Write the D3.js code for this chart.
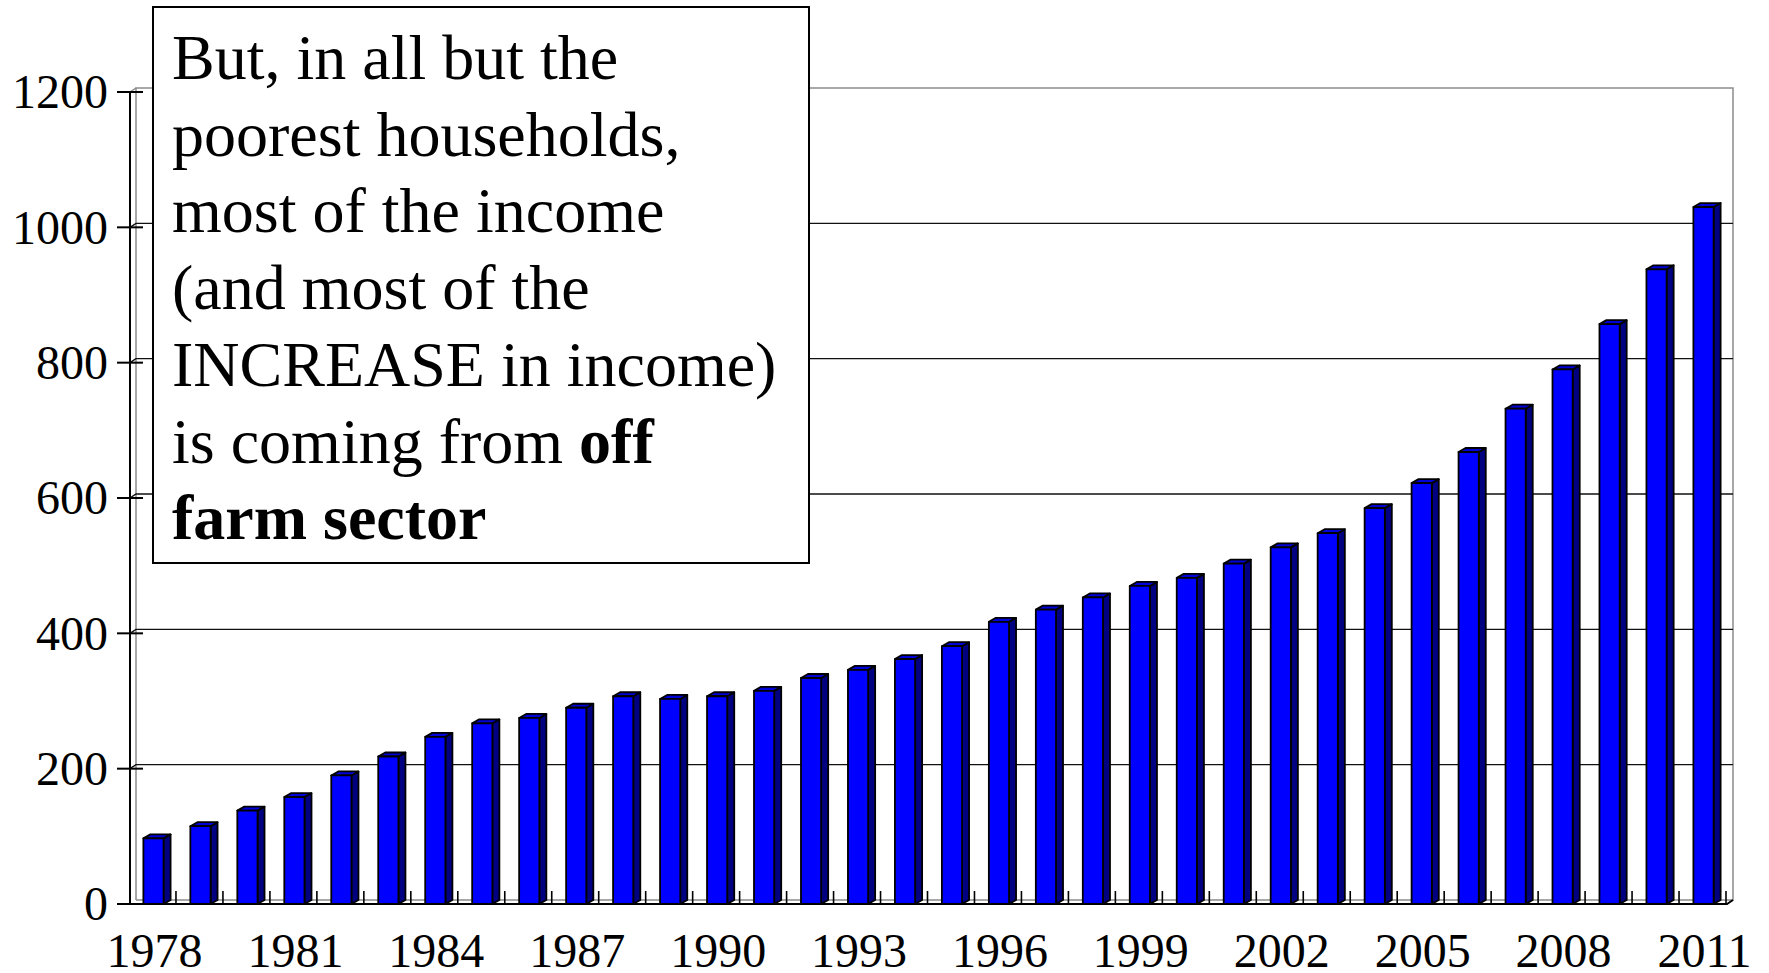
<!DOCTYPE html>
<html>
<head>
<meta charset="utf-8">
<script src="https://cdn.jsdelivr.net/npm/d3@7/dist/d3.min.js"></script>
<style>
  html, body { margin: 0; padding: 0; background: #fff; }
  svg { display: block; font-family: "Liberation Serif", "Times New Roman", serif; }
</style>
</head>
<body>
<svg id="chart" width="1769" height="973"></svg>
<script>
// data
var years = d3.range(1978, 2012).map(String);
var income = [97, 115, 138, 158, 190, 218, 247, 267, 275, 290,
              307, 303, 307, 315, 334, 346, 362, 381, 417, 435,
              453, 470, 482, 503, 527, 548, 585, 622, 668, 732,
              790, 857, 938, 1030];
var yTicks = [0, 200, 400, 600, 800, 1000, 1200];
var xLabels = years.filter(function(d, i) { return i % 3 === 0; });

var noteLines = [
    [{t: "But, in all but the"}],
    [{t: "poorest households,"}],
    [{t: "most of the income"}],
    [{t: "(and most of the"}],
    [{t: "INCREASE in income)"}],
    [{t: "is coming from "}, {t: "off", b: true}],
    [{t: "farm sector", b: true}]
];

var svg = d3.select("#chart");
var depth = {x: 6, y: -4};   // 3d offset of the back wall

var x = d3.scaleBand()
    .domain(years)
    .range([130, 1727])
    .padding(0);
var y = d3.scaleLinear()
    .domain([0, 1200])
    .range([904, 92]);

var barW = x.bandwidth() * 0.43;
var x0 = x.range()[0], x1 = x.range()[1];

// back wall & floor (gray)
var wall = svg.append("g")
    .attr("fill", "none")
    .attr("stroke", "#8c8c8c")
    .attr("stroke-width", 1.5);
wall.append("path")
    .attr("d", "M" + (x0 + depth.x) + "," + (y(0) + depth.y) +
               "V" + (y(1200) + depth.y) +
               "H" + (x1 + depth.x) +
               "V" + (y(0) + depth.y) +
               "H" + (x0 + depth.x));
wall.append("path")
    .attr("d", "M" + x0 + "," + y(1200) + "L" + (x0 + depth.x) + "," + (y(1200) + depth.y));

// gridlines on the back wall
var grid = svg.append("g")
    .attr("stroke", "#111")
    .attr("stroke-width", 1.4)
    .attr("fill", "none");
grid.selectAll("path")
    .data(yTicks.filter(function(d) { return d > 0 && d < 1200; }))
    .enter()
    .append("path")
    .attr("d", function(d) {
        return "M" + x0 + "," + y(d) +
               "L" + (x0 + depth.x) + "," + (y(d) + depth.y) +
               "H" + (x1 + depth.x);
    });

// front axes
var axes = svg.append("g")
    .attr("stroke", "#000")
    .attr("stroke-width", 2)
    .attr("fill", "none");
axes.append("line")
    .attr("x1", x0).attr("x2", x0)
    .attr("y1", y(0)).attr("y2", y(1200));
axes.append("path")
    .attr("d", "M" + x0 + "," + y(0) + "H" + x1 +
               "L" + (x1 + depth.x) + "," + (y(0) + depth.y));
axes.selectAll(".ytick")
    .data(yTicks)
    .enter()
    .append("line")
    .attr("class", "ytick")
    .attr("x1", 117).attr("x2", 143)
    .attr("y1", function(d) { return y(d); })
    .attr("y2", function(d) { return y(d); });
axes.selectAll(".xtick")
    .data(years.slice(1).concat(["end"]))
    .enter()
    .append("line")
    .attr("class", "xtick")
    .attr("x1", function(d, i) { return x0 + x.step() * (i + 1) - 1; })
    .attr("x2", function(d, i) { return x0 + x.step() * (i + 1) - 1; })
    .attr("y1", y(0) - 13)
    .attr("y2", y(0))
    .attr("stroke-width", 1.6);

// y labels
svg.append("g")
    .selectAll("text")
    .data(yTicks)
    .enter()
    .append("text")
    .attr("x", 108)
    .attr("y", function(d) { return y(d); })
    .attr("dy", "0.34em")
    .attr("text-anchor", "end")
    .attr("font-size", 48)
    .text(function(d) { return d; });

// x labels
svg.append("g")
    .selectAll("text")
    .data(xLabels)
    .enter()
    .append("text")
    .attr("x", function(d) { return x(d) + x.bandwidth() / 2 + 1; })
    .attr("y", 967)
    .attr("text-anchor", "middle")
    .attr("font-size", 48)
    .text(function(d) { return d; });

// 3d bars
var bars = svg.append("g")
    .selectAll("g")
    .data(income)
    .enter()
    .append("g")
    .attr("stroke", "#000")
    .attr("stroke-width", 1.8)
    .attr("stroke-linejoin", "round");

function bx(i) { return x(years[i]) + (x.bandwidth() - barW) / 2; }

bars.append("path")   // side face
    .attr("fill", "#000080")
    .attr("d", function(d, i) {
        var l = bx(i) + barW, t = y(d), b = y(0);
        return "M" + l + "," + b + "V" + t +
               "L" + (l + depth.x + 1) + "," + (t + depth.y) +
               "V" + (b + depth.y) + "Z";
    });
bars.append("path")   // top face
    .attr("fill", "#0000d8")
    .attr("d", function(d, i) {
        var l = bx(i), t = y(d);
        return "M" + l + "," + t + "H" + (l + barW) +
               "L" + (l + barW + depth.x + 1) + "," + (t + depth.y) +
               "H" + (l + depth.x + 1) + "Z";
    });
bars.append("rect")   // front face
    .attr("fill", "#0000ff")
    .attr("x", function(d, i) { return bx(i); })
    .attr("y", function(d) { return y(d); })
    .attr("width", barW)
    .attr("height", function(d) { return y(0) - y(d); });

// text box
var note = svg.append("g");
note.append("rect")
    .attr("x", 153).attr("y", 7)
    .attr("width", 656).attr("height", 556)
    .attr("fill", "#fff")
    .attr("stroke", "#000")
    .attr("stroke-width", 2);
note.selectAll("text")
    .data(noteLines)
    .enter()
    .append("text")
    .attr("x", 172)
    .attr("y", function(d, i) { return 79 + i * 76.7; })
    .attr("font-size", 64)
    .each(function(parts) {
        d3.select(this).selectAll("tspan")
            .data(parts)
            .enter()
            .append("tspan")
            .attr("font-weight", function(p) { return p.b ? "bold" : null; })
            .text(function(p) { return p.t; });
    });
</script>
</body>
</html>
